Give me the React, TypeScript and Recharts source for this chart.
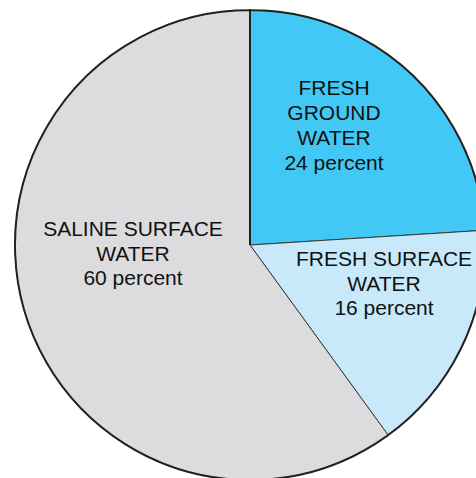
import React from "react";
import { PieChart, Pie, Cell } from "recharts";

const categories = ["FRESH GROUND WATER", "FRESH SURFACE WATER", "SALINE SURFACE WATER"];
const percents = [24, 16, 60];
const labelLines = [
  ["FRESH", "GROUND", "WATER", "24 percent"],
  ["FRESH SURFACE", "WATER", "16 percent"],
  ["SALINE SURFACE", "WATER", "60 percent"],
];

const colors = ["#41C8F4", "#C7E9F9", "#DCDCDE"];
// label block centre offsets from pie centre (layout only)
const labelOffsets = [
  { dx: 84, dy: -120 },
  { dx: 134, dy: 38 },
  { dx: -117, dy: 8 },
];

const data = categories.map((name, i) => ({ name, value: percents[i] }));

const FONT = "'Liberation Sans', Arial, sans-serif";
const LINE_H = 24.8;

const renderLabel = (props: any) => {
  const { cx, cy, index } = props;
  const lines = labelLines[index];
  const off = labelOffsets[index];
  const x = cx + off.dx;
  const y0 = cy + off.dy - ((lines.length - 1) * LINE_H) / 2;
  return (
    <text
      key={"lbl" + index}
      x={x}
      y={y0}
      textAnchor="middle"
      fill="#111"
      fontFamily={FONT}
      fontSize={21}
    >
      {lines.map((l, j) => (
        <tspan key={j} x={x} y={y0 + j * LINE_H} dominantBaseline="central">
          {l}
        </tspan>
      ))}
    </text>
  );
};

export default function App() {
  return (
    <div style={{ position: "absolute", left: 0, top: 0, width: 476, height: 478, background: "#fff" }}>
      <PieChart width={476} height={478} margin={{ top: 0, right: 0, bottom: 0, left: 0 }}>
        <Pie
          data={data}
          dataKey="value"
          nameKey="name"
          cx={250}
          cy={245}
          outerRadius={235}
          innerRadius={0}
          startAngle={90}
          endAngle={-270}
          stroke="#3a3a3a"
          strokeWidth={1}
          label={renderLabel}
          labelLine={false}
          isAnimationActive={false}
        >
          {data.map((d, i) => (
            <Cell key={d.name} fill={colors[i]} />
          ))}
        </Pie>
        <Pie
          data={[{ name: "outline", value: 100 }]}
          dataKey="value"
          cx={250}
          cy={245}
          outerRadius={235}
          innerRadius={0}
          startAngle={90}
          endAngle={-270}
          fill="none"
          stroke="#222"
          strokeWidth={2}
          isAnimationActive={false}
          label={false}
          labelLine={false}
        />
      </PieChart>
    </div>
  );
}
